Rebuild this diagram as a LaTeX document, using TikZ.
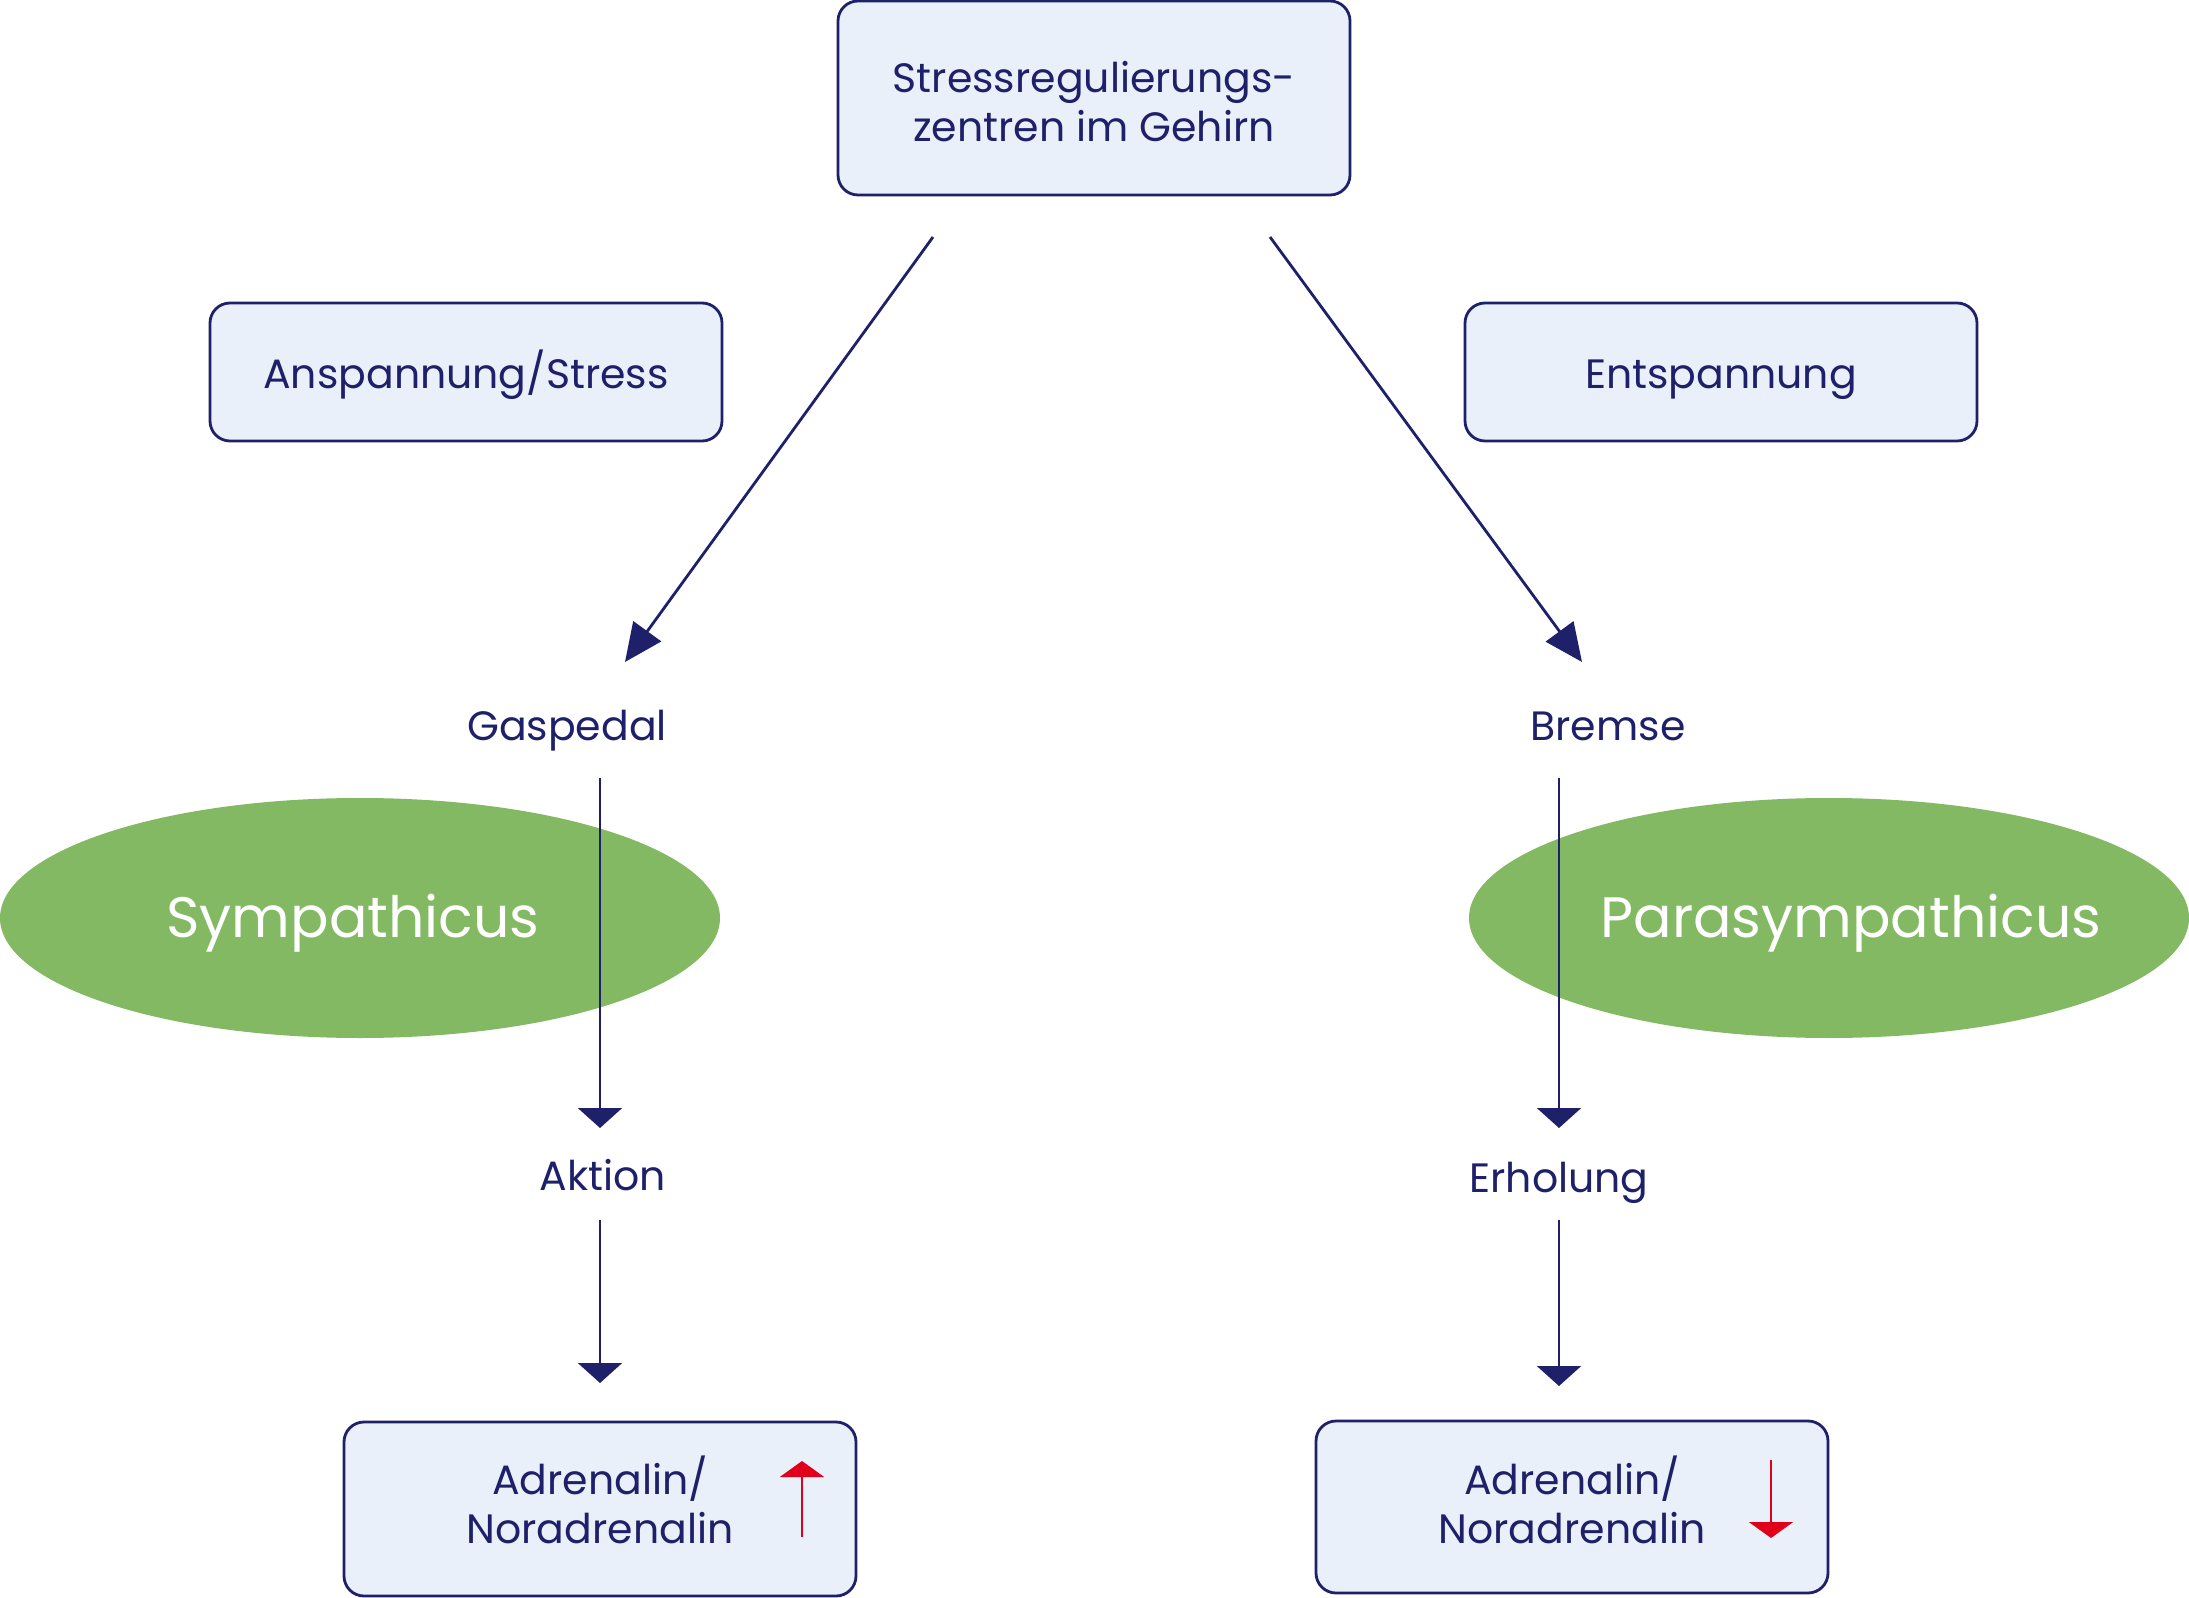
\documentclass[tikz,border=0pt]{standalone}
\usepackage{fontspec}
\setmainfont{Poppins}
\usetikzlibrary{arrows.meta,shapes.geometric}
\definecolor{navy}{RGB}{30,32,105}
\definecolor{boxfill}{RGB}{234,240,250}
\definecolor{leaf}{RGB}{130,185,98}
\definecolor{alarm}{RGB}{225,0,26}
\tikzset{
  box/.style={draw=navy, fill=boxfill, line width=1.4pt, rounded corners=10pt,
    minimum width=256pt, inner sep=0pt},
  lbl/.style={text=navy, font=\fontsize{20.5}{24.5}\selectfont, inner sep=0pt},
  word/.style={lbl, text height=15pt, text depth=4.5pt},
  nerve/.style={ellipse, fill=leaf, minimum width=360pt, minimum height=120pt, inner sep=0pt},
  nervetext/.style={text=white, font=\fontsize{28.5}{34}\selectfont, inner sep=0pt},
  diag/.style={draw=navy, line width=1.4pt, -{Triangle[length=19pt,width=17pt]}},
  vert/.style={draw=navy, line width=1.2pt, -{Triangle[length=10pt,width=22pt]}},
  redarr/.style={draw=alarm, line width=1.2pt, -{Triangle[length=8pt,width=22pt]}}
}
\begin{document}
\begin{tikzpicture}[x=0.5pt,y=-0.5pt]
\useasboundingbox (0,0) rectangle (2189,1598);
% boxes
\node[box, minimum height=97pt] (brain) at (1094,98) {};
\node[lbl, align=center] (braint) at (1094,102) {Stressregulierungs-\\zentren im Gehirn};
\node[box, minimum height=69pt] (stress) at (466,372) {};
\node[word] (stresst) at (466,378) {Anspannung/Stress};
\node[box, minimum height=69pt] (relax) at (1721,372) {};
\node[word] (relaxt) at (1721,378) {Entspannung};
% ellipses
\node[nerve] (symp) at (360,918) {};
\node[nerve] (para) at (1829,918) {};
\node[nervetext] (symptext) at (353,923) {Sympathicus};
\node[nervetext] (paratext) at (1851,923) {Parasympathicus};
% labels
\node[word] (gas) at (567,730) {Gaspedal};
\node[word] (brake) at (1608,730) {Bremse};
\node[word] (action) at (603,1180) {Aktion};
\node[word] (recov) at (1559,1182) {Erholung};
% bottom boxes
\node[box, minimum height=87pt] (adrL) at (600,1509) {};
\node[box, minimum height=86pt] (adrR) at (1572,1507) {};
\node[lbl, align=center] (adrLt) at (600,1500) {Adrenalin/\\Noradrenalin};
\node[lbl, align=center] (adrRt) at (1572,1500) {Adrenalin/\\Noradrenalin};
% coordinates
\coordinate (dl1) at (933,237);
\coordinate (dl2) at (625,662);
\coordinate (dr1) at (1270,237);
\coordinate (dr2) at (1582,662);
\coordinate (vl1) at (600,778);
\coordinate (vl2) at (600,1128);
\coordinate (vl3) at (600,1220);
\coordinate (vl4) at (600,1383);
\coordinate (vr1) at (1559,778);
\coordinate (vr2) at (1559,1128);
\coordinate (vr3) at (1559,1220);
\coordinate (vr4) at (1559,1386);
\coordinate (rl1) at (802,1537);
\coordinate (rl2) at (802,1461);
\coordinate (rr1) at (1771,1460);
\coordinate (rr2) at (1771,1538);
% arrows
\draw[diag] (dl1) -- (dl2);
\draw[diag] (dr1) -- (dr2);
\draw[vert] (vl1) -- (vl2);
\draw[vert] (vl3) -- (vl4);
\draw[vert] (vr1) -- (vr2);
\draw[vert] (vr3) -- (vr4);
\draw[redarr] (rl1) -- (rl2);
\draw[redarr] (rr1) -- (rr2);
\end{tikzpicture}
\end{document}
